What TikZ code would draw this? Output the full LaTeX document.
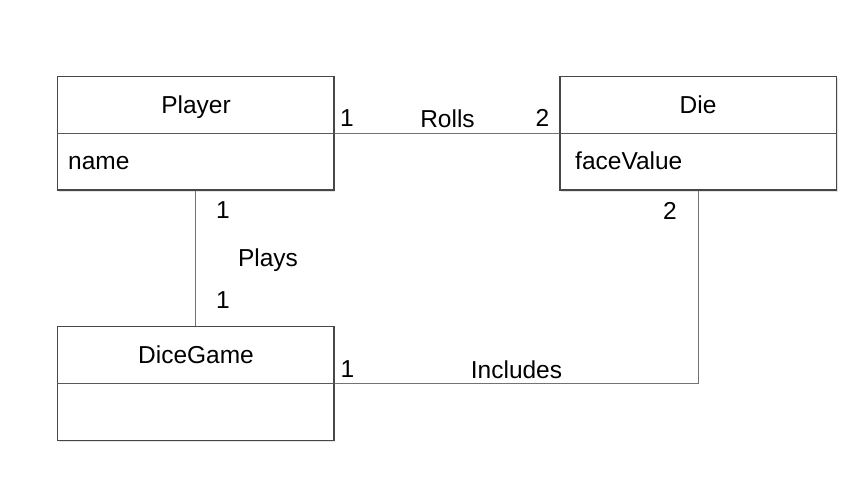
\documentclass[tikz,border=0pt]{standalone}
\usepackage{fontspec}
\setmainfont{Liberation Sans}
\usetikzlibrary{shadows}
\begin{document}
\begin{tikzpicture}[x=1pt,y=-1pt,
  classbox/.style={draw=black!72, line width=1.1pt, fill=white, rectangle, inner sep=0pt,
    minimum width=276.5pt, minimum height=113.5pt,
    drop shadow={opacity=0.22, shadow xshift=1pt, shadow yshift=-2pt}},
  divider/.style={draw=black!65, line width=1pt},
  conn/.style={draw=black!55, line width=1.1pt},
  txt/.style={anchor=base, inner sep=0pt, font=\fontsize{24.5}{28}\selectfont, text=black},
  ltxt/.style={anchor=base west, inner sep=0pt, font=\fontsize{24.5}{28}\selectfont, text=black}]
\useasboundingbox (0,0) rectangle (858,502);

% class boxes
\node[classbox] (player) at (195.75,133.25) {};
\node[classbox] (die) at (698.25,133.25) {};
\node[classbox] (game) at (195.75,383.5) {};

% dividers
\draw[divider] (player.west) -- (player.east);
\draw[divider] (die.west) -- (die.east);
\draw[divider] (game.west) -- (game.east);

% class texts
\node[txt] (playername) at (196,113.3) {Player};
\node[ltxt] (playerattr) at (68,169.3) {name};
\node[txt] (diename) at (698,113.3) {Die};
\node[ltxt] (dieattr) at (575,169.3) {faceValue};
\node[txt] (gamename) at (196,363.3) {DiceGame};

% connectors
\draw[conn] (player.east) -- (die.west);
\draw[conn] (player.south) -- (game.north);
\draw[conn] (die.south) |- (game.east);

% association labels
\node[txt] (r1) at (347,127) {1};
\node[txt] (rolls) at (447.5,127.5) {Rolls};
\node[txt] (r2) at (542.5,127) {2};

\node[txt] (p1) at (223,218.3) {1};
\node[txt] (plays) at (268,266) {Plays};
\node[txt] (p2) at (223,308.3) {1};

\node[txt] (i2) at (670,220) {2};
\node[txt] (i1) at (347.5,377.5) {1};
\node[txt] (includes) at (516.5,378) {Includes};
\end{tikzpicture}
\end{document}
